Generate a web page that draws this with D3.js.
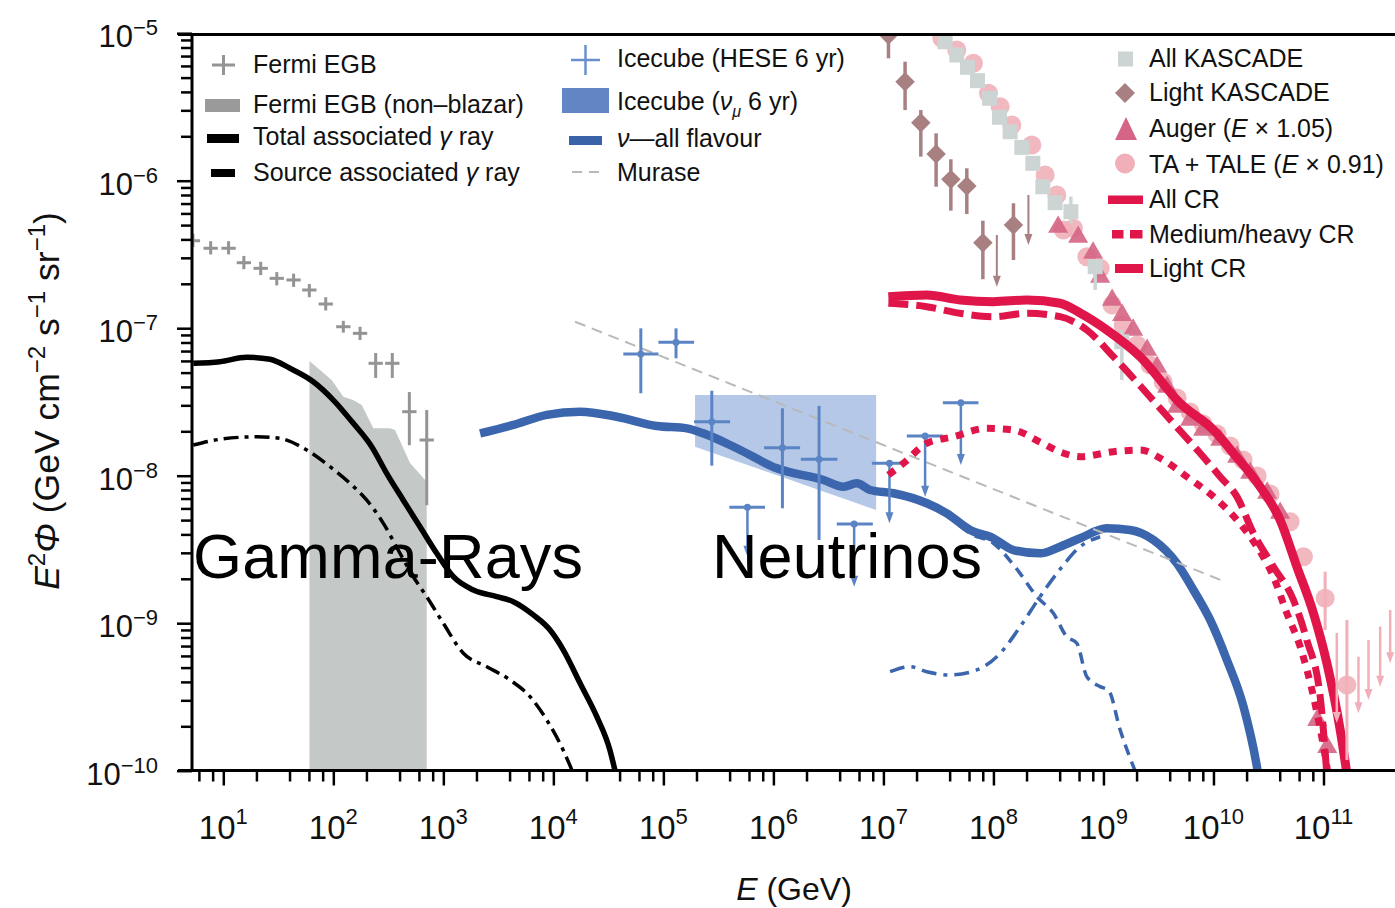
<!DOCTYPE html>
<html>
<head>
<meta charset="utf-8">
<script src="https://cdn.jsdelivr.net/npm/d3@7"></script>
<style>
body { margin: 0; background: #fff; }
svg { display: block; font-family: "Liberation Sans", Arial, Helvetica, sans-serif; }
</style>
</head>
<body>
<div id="chart"></div>
<script>
// all values are [log10 E/GeV, log10 E^2 Phi]

// Fermi EGB: logE, logF, logF low, logF high
var fermi_egb = [
   [0.724, -6.407, -6.45, -6.36], [0.885, -6.458, -6.50, -6.41], [1.048, -6.458, -6.50, -6.41],
   [1.187, -6.556, -6.60, -6.51], [1.340, -6.594, -6.64, -6.55], [1.486, -6.662, -6.71, -6.62],
   [1.639, -6.673, -6.72, -6.63], [1.782, -6.741, -6.79, -6.70], [1.931, -6.836, -6.88, -6.79],
   [2.091, -6.990, -7.03, -6.95], [2.243, -7.035, -7.08, -6.99], [2.385, -7.238, -7.337, -7.168],
   [2.536, -7.238, -7.337, -7.168], [2.691, -7.566, -7.793, -7.433], [2.849, -7.758, -8.20, -7.555]
];
// Fermi EGB (non-blazar) band, upper edge
var fermi_nonblazar = [
   [1.783, -7.222], [1.879, -7.283], [1.985, -7.351], [2.091, -7.464], [2.179, -7.487], [2.258, -7.521],
   [2.364, -7.679], [2.515, -7.679], [2.561, -7.690], [2.697, -7.914], [2.849, -8.041]
];
var total_gamma = [
   [0.727, -7.238], [0.970, -7.227], [1.213, -7.197], [1.425, -7.211], [1.606, -7.272], [1.818, -7.363],
   [2.000, -7.487], [2.182, -7.645], [2.349, -7.803], [2.485, -7.984], [2.636, -8.166], [2.788, -8.346],
   [2.940, -8.526], [3.091, -8.685], [3.273, -8.775], [3.485, -8.820], [3.636, -8.854], [3.818, -8.944],
   [3.970, -9.046], [4.091, -9.182], [4.243, -9.407], [4.395, -9.634], [4.515, -9.863], [4.570, -10.03]
];
var source_gamma = [
   [0.727, -7.792], [0.970, -7.753], [1.304, -7.736], [1.515, -7.747], [1.758, -7.826], [1.970, -7.939],
   [2.152, -8.052], [2.304, -8.166], [2.455, -8.323], [2.606, -8.526], [2.727, -8.685], [2.849, -8.820],
   [3.000, -9.001], [3.182, -9.204], [3.395, -9.295], [3.606, -9.385], [3.788, -9.498], [3.940, -9.656],
   [4.091, -9.863], [4.182, -10.02]
];
var nu_all = [
   [3.334, -7.713], [3.636, -7.656], [3.940, -7.588], [4.243, -7.566], [4.576, -7.600], [4.940, -7.663],
   [5.213, -7.679], [5.364, -7.713], [5.667, -7.814], [6.031, -7.950], [6.455, -8.029], [6.636, -8.075],
   [6.758, -8.052], [6.879, -8.097], [7.091, -8.119], [7.395, -8.187], [7.576, -8.255], [7.788, -8.368],
   [8.000, -8.424], [8.182, -8.504], [8.424, -8.526], [8.606, -8.481], [8.788, -8.424], [9.031, -8.357],
   [9.242, -8.368], [9.455, -8.436], [9.667, -8.594], [9.818, -8.775], [9.970, -8.978], [10.122, -9.249],
   [10.273, -9.566], [10.395, -9.973], [10.415, -10.063]
];
var nu_dashed = [
   [7.576, -8.255], [7.788, -8.391], [8.000, -8.458], [8.213, -8.634], [8.395, -8.820], [8.545, -8.933],
   [8.667, -9.092], [8.758, -9.136], [8.849, -9.363], [8.970, -9.430], [9.045, -9.453], [9.152, -9.724],
   [9.303, -10.03]
];
var nu_dashdot = [
   [7.061, -9.329], [7.243, -9.295], [7.395, -9.329], [7.606, -9.351], [7.849, -9.317], [8.061, -9.204],
   [8.243, -9.024], [8.424, -8.820], [8.606, -8.634], [8.788, -8.481], [8.970, -8.414]
];
var murase = [[4.197, -6.956], [10.106, -8.719]];
// IceCube nu_mu 6 yr band corners
var icecube_numu = [[5.288, -7.453], [6.934, -7.453], [6.934, -8.232], [5.288, -7.803]];
// HESE: logE, logF, logE low, logE high, logF low, logF high
var hese_points = [
   [4.795, -7.175, 4.636, 4.955, -7.441, -7.001],
   [5.115, -7.096, 4.955, 5.279, -7.204, -7.001],
   [5.440, -7.634, 5.279, 5.606, -7.932, -7.424],
   [6.082, -7.810, 5.915, 6.243, -8.221, -7.543],
   [6.415, -7.889, 6.249, 6.582, -8.436, -7.527]
];
// HESE upper limits: logE, logF, logE low, logE high, arrow tip
var hese_limits = [
   [5.764, -8.214, 5.600, 5.924, -8.549],
   [6.734, -8.327, 6.576, 6.904, -8.753],
   [7.055, -7.916, 6.895, 7.197, -8.323],
   [7.379, -7.731, 7.213, 7.540, -8.142],
   [7.704, -7.505, 7.540, 7.864, -7.927]
];
var light_kascade = [
   [7.046, -5.012, -5.170, -4.85], [7.197, -5.329, -5.521, -5.193], [7.340, -5.607, -5.837, -5.521],
   [7.479, -5.819, -6.041, -5.679], [7.613, -5.991, -6.203, -5.855], [7.758, -6.036, -6.226, -5.916],
   [7.904, -6.420, -6.668, -6.271], [8.182, -6.300, -6.538, -6.153]
];
var light_kascade_limits = [[8.031, -6.368, -6.719], [8.318, -6.097, -6.436]];
var all_kascade = [
   [7.470, -4.944, -4.96, -4.93], [7.561, -5.058, -5.07, -5.04], [7.667, -5.148, -5.16, -5.13],
   [7.764, -5.231, -5.25, -5.22], [7.855, -5.322, -5.34, -5.31], [7.964, -5.441, -5.46, -5.43],
   [8.055, -5.570, -5.59, -5.55], [8.152, -5.668, -5.69, -5.65], [8.258, -5.774, -5.79, -5.76],
   [8.358, -5.882, -5.90, -5.86], [8.449, -6.041, -6.06, -6.02], [8.561, -6.149, -6.17, -6.13],
   [8.704, -6.210, -6.289, -6.108], [8.925, -6.583, -6.741, -6.538], [9.167, -7.092, -7.351, -7.012]
];
var auger = [
   [8.588, -6.314], [8.770, -6.382], [8.906, -6.490], [8.970, -6.653], [9.079, -6.809], [9.170, -6.911],
   [9.270, -7.012], [9.397, -7.148], [9.488, -7.263], [9.579, -7.399], [9.670, -7.534], [9.788, -7.622],
   [9.906, -7.690], [10.061, -7.758], [10.215, -7.873], [10.334, -7.982], [10.488, -8.117], [10.606, -8.253],
   [10.943, -9.657], [11.034, -9.840]
];
var ta_tale = [
   [7.531, -5.035], [7.667, -5.114], [7.818, -5.204], [7.955, -5.407], [8.061, -5.498], [8.167, -5.622],
   [8.349, -5.758], [8.470, -5.961], [8.576, -6.097], [8.636, -6.334], [8.727, -6.323], [8.849, -6.515],
   [8.970, -6.594], [9.079, -6.843], [9.179, -6.978], [9.306, -7.114], [9.424, -7.249], [9.543, -7.365],
   [9.670, -7.473], [9.788, -7.568], [9.906, -7.649], [10.033, -7.717], [10.152, -7.799], [10.270, -7.893],
   [10.397, -8.002], [10.515, -8.124], [10.697, -8.312], [10.818, -8.549], [11.015, -8.831], [11.213, -9.419]
];
var ta_errors = [[11.015, -9.046, -8.651], [11.213, -9.927, -8.978]];
var ta_limits = [
   [11.121, -9.066, -9.676], [11.318, -9.227, -9.611], [11.409, -9.114, -9.521],
   [11.515, -9.023, -9.431], [11.606, -8.910, -9.272]
];
var all_cr = [
   [7.045, -6.786], [7.395, -6.775], [7.697, -6.809], [8.000, -6.820], [8.304, -6.809], [8.606, -6.831],
   [8.788, -6.897], [9.031, -7.012], [9.334, -7.193], [9.697, -7.509], [10.000, -7.690], [10.182, -7.848],
   [10.424, -8.075], [10.606, -8.300], [10.758, -8.617], [10.909, -8.933], [11.031, -9.272], [11.152, -9.724],
   [11.215, -10.03]
];
var light_cr = [
   [7.045, -6.831], [7.395, -6.854], [7.697, -6.899], [8.000, -6.922], [8.304, -6.899], [8.606, -6.922],
   [8.849, -7.012], [9.091, -7.193], [9.394, -7.441], [9.636, -7.645], [9.879, -7.848], [10.061, -8.007],
   [10.213, -8.142], [10.364, -8.391], [10.545, -8.617], [10.727, -8.843], [10.849, -9.115], [10.970, -9.498],
   [11.031, -10.03]
];
var heavy_cr = [
   [7.045, -7.995], [7.182, -7.916], [7.395, -7.780], [7.636, -7.736], [7.940, -7.679], [8.182, -7.690],
   [8.424, -7.772], [8.606, -7.839], [8.788, -7.871], [9.091, -7.837], [9.334, -7.826], [9.545, -7.894],
   [9.758, -8.007], [10.000, -8.142], [10.213, -8.300], [10.395, -8.481], [10.545, -8.685], [10.667, -8.933],
   [10.788, -9.159], [10.909, -9.498], [11.031, -9.973], [11.043, -10.03]
];

var x_major_exp = d3.range(1, 12);
var y_major_exp = d3.range(-10, -4);

var W = 1395, H = 908;
var svg = d3.select("#chart").append("svg").attr("width", W).attr("height", H);

var x = d3.scaleLog().domain([Math.pow(10, 0.7155), Math.pow(10, 11.65)]).range([192, 1395]);
var y = d3.scaleLog().domain([1e-10, 1e-5]).range([770.7, 33.2]);
function X(v) { return x(Math.pow(10, v)); }
function Y(v) { return y(Math.pow(10, v)); }

svg.append("defs").append("clipPath").attr("id", "plot_clip").append("rect")
   .attr("x", 192).attr("y", 34).attr("width", W - 192).attr("height", 736);
var plot = svg.append("g").attr("clip-path", "url(#plot_clip)");

function smooth_line(data) {
   return d3.line().x(function(d) { return X(d[0]); }).y(function(d) { return Y(d[1]); }).curve(d3.curveMonotoneX)(data);
}
function straight_line(data) {
   return d3.line().x(function(d) { return X(d[0]); }).y(function(d) { return Y(d[1]); })(data);
}
function draw_curve(data, color, width, dash) {
   return plot.append("path").attr("d", smooth_line(data)).attr("fill", "none").attr("stroke", color)
      .attr("stroke-width", width).attr("stroke-dasharray", dash || null).attr("stroke-linejoin", "round");
}
function arrow_head(g, px, py, w, h, color) {
   return g.append("path").attr("d", "M" + (px - w / 2) + "," + (py - h) + "L" + (px + w / 2) + "," + (py - h) + "L" + px + "," + py + "Z")
      .attr("fill", color);
}
function vline(g, px, y1, y2, color, w) {
   return g.append("line").attr("x1", px).attr("x2", px).attr("y1", y1).attr("y2", y2).attr("stroke", color).attr("stroke-width", w);
}
function hline(g, x1, x2, py, color, w) {
   return g.append("line").attr("x1", x1).attr("x2", x2).attr("y1", py).attr("y2", py).attr("stroke", color).attr("stroke-width", w);
}

// Fermi non-blazar band
plot.append("path")
   .attr("d", d3.area().x(function(d) { return X(d[0]); }).y0(Y(-11)).y1(function(d) { return Y(d[1]); })(fermi_nonblazar))
   .attr("fill", "#c4c9c8");

// Fermi EGB crosses
fermi_egb.forEach(function(d) {
   hline(plot, X(d[0] - 0.065), X(d[0] + 0.065), Y(d[1]), "#949494", 3);
   vline(plot, X(d[0]), Y(d[2]), Y(d[3]), "#949494", 3);
});

// gamma-ray models
draw_curve(source_gamma, "#000", 3.5, "15,6,4,6");
draw_curve(total_gamma, "#000", 5.5);

// IceCube numu band
plot.append("path").attr("d", straight_line(icecube_numu) + "Z").attr("fill", "#b5c8e8");

// neutrino models
draw_curve(nu_dashdot, "#3b66ad", 3.5, "15,7,4,7");
draw_curve(nu_dashed, "#3b66ad", 3.5, "11,7");
draw_curve(nu_all, "#3b66ad", 8.5);

// Murase
plot.append("path").attr("d", straight_line(murase)).attr("stroke", "#b9b9b9").attr("stroke-width", 2)
   .attr("stroke-dasharray", "11,7").attr("fill", "none");

// HESE points
var hese_col = "#5b84c4";
hese_points.forEach(function(d) {
   hline(plot, X(d[2]), X(d[3]), Y(d[1]), hese_col, 3);
   vline(plot, X(d[0]), Y(d[4]), Y(d[5]), hese_col, 3);
   plot.append("circle").attr("cx", X(d[0])).attr("cy", Y(d[1])).attr("r", 3.5).attr("fill", hese_col);
});
hese_limits.forEach(function(d) {
   hline(plot, X(d[2]), X(d[3]), Y(d[1]), hese_col, 3);
   vline(plot, X(d[0]), Y(d[1]), Y(d[4]) - 8, hese_col, 2.5);
   plot.append("circle").attr("cx", X(d[0])).attr("cy", Y(d[1])).attr("r", 3.5).attr("fill", hese_col);
   arrow_head(plot, X(d[0]), Y(d[4]), 8, 11, hese_col);
});

// Light KASCADE
var lk_col = "#a88082";
light_kascade.forEach(function(d) {
   vline(plot, X(d[0]), Y(d[2]), Y(d[3]), lk_col, 3.5);
   plot.append("path").attr("d", d3.symbol().type(d3.symbolSquare).size(190)())
      .attr("transform", "translate(" + X(d[0]) + "," + Y(d[1]) + ") rotate(45)").attr("fill", lk_col);
});
light_kascade_limits.forEach(function(d) {
   vline(plot, X(d[0]), Y(d[1]), Y(d[2]) - 8, lk_col, 2);
   arrow_head(plot, X(d[0]), Y(d[2]), 8, 11, lk_col);
});

// TA + TALE circles
var ta_col = "#f1b0b9";
plot.selectAll("circle.ta").data(ta_tale).enter().append("circle").attr("class", "ta")
   .attr("cx", function(d) { return X(d[0]); }).attr("cy", function(d) { return Y(d[1]); })
   .attr("r", 9.5).attr("fill", ta_col).attr("opacity", 0.9);

// Auger triangles
plot.selectAll("path.auger").data(auger).enter().append("path").attr("class", "auger")
   .attr("d", d3.symbol().type(d3.symbolTriangle).size(175)())
   .attr("transform", function(d) { return "translate(" + X(d[0]) + "," + Y(d[1]) + ")"; })
   .attr("fill", "#d46584").attr("opacity", 0.9);

// All KASCADE squares
all_kascade.forEach(function(d) {
   vline(plot, X(d[0]), Y(d[2]), Y(d[3]), "#cdd4d4", 3.5);
   plot.append("path").attr("d", d3.symbol().type(d3.symbolSquare).size(225)())
      .attr("transform", "translate(" + X(d[0]) + "," + Y(d[1]) + ")").attr("fill", "#cdd4d4");
});

// cosmic-ray models
draw_curve(heavy_cr, "#e0164b", 7, "8,8");
draw_curve(light_cr, "#e0164b", 7, "20,8");
draw_curve(all_cr, "#e0164b", 9);

// TA error bars and limits
ta_errors.forEach(function(d) { vline(plot, X(d[0]), Y(d[1]), Y(d[2]), ta_col, 3); });
ta_limits.forEach(function(d) {
   vline(plot, X(d[0]), Y(d[1]), Y(d[2]) - 8, ta_col, 2.5);
   arrow_head(plot, X(d[0]), Y(d[2]), 8, 11, ta_col);
});

// axes
var x_minor = [];
for (var n = 0; n <= 10; n++) { [2, 4, 6, 8].forEach(function(m) { var v = m * Math.pow(10, n); if (v >= x.domain()[0]) x_minor.push(v); }); }
var y_minor = [];
for (var k = -10; k < -5; k++) { d3.range(2, 10).forEach(function(m) { y_minor.push(m * Math.pow(10, k)); }); }

function style_axis(g) {
   g.select(".domain").remove();
   g.selectAll("line").attr("stroke", "#000").attr("stroke-width", 2.5);
}
svg.append("g").attr("transform", "translate(0,770.5)")
   .call(d3.axisBottom(x).tickValues(x_major_exp.map(function(e) { return Math.pow(10, e); })).tickSize(15).tickFormat(""))
   .call(style_axis);
svg.append("g").attr("transform", "translate(0,770.5)")
   .call(d3.axisBottom(x).tickValues(x_minor).tickSize(11).tickFormat("")).call(style_axis);
svg.append("g").attr("transform", "translate(192,0)")
   .call(d3.axisLeft(y).tickValues(y_major_exp.map(function(e) { return Math.pow(10, e); })).tickSize(15).tickFormat(""))
   .call(style_axis);
svg.append("g").attr("transform", "translate(192,0)")
   .call(d3.axisLeft(y).tickValues(y_minor).tickSize(11).tickFormat("")).call(style_axis);

// frame
hline(svg, 178, W, 34.5, "#000", 3);
hline(svg, 178, W, 770.5, "#000", 3);
vline(svg, 192, 33, 772, "#000", 3);

// tick labels
function power_label(px, py, exp, anchor, fs, sfs, raise) {
   var t = svg.append("text").attr("x", px).attr("y", py).attr("text-anchor", anchor).attr("font-size", fs).attr("fill", "#111");
   t.append("tspan").text("10");
   t.append("tspan").attr("font-size", sfs).attr("dy", -raise).text(exp);
}
x_major_exp.forEach(function(e) { power_label(x(Math.pow(10, e)), 839, String(e), "middle", 33, 22, 15); });
y_major_exp.forEach(function(e) { power_label(158, y(Math.pow(10, e)) + 14, "\u2212" + (-e), "end", 31, 22, 12); });

// rich text helper: parts are [text, italic, offset, size]
function rich_text(g, px, py, parts, fs, anchor) {
   var t = g.append("text").attr("x", px).attr("y", py).attr("font-size", fs).attr("fill", "#111")
      .attr("text-anchor", anchor || "start");
   var cur = 0;
   parts.forEach(function(p) {
      var off = p[2] || 0;
      var s = t.append("tspan").text(p[0]).attr("dy", off - cur);
      if (p[1]) s.attr("font-style", "italic");
      if (p[3]) s.attr("font-size", p[3]);
      cur = off;
   });
   return t;
}

// axis titles
rich_text(svg, 794, 900, [["E", true], [" (GeV)"]], 32, "middle");
rich_text(svg, 0, 0, [["E", true], ["2", false, -14, 24], ["Φ", true], [" (GeV cm"], ["\u22122", false, -14, 24], [" s"],
   ["\u22121", false, -14, 24], [" sr"], ["\u22121", false, -14, 24], [")"]], 35.5, "middle")
   .attr("transform", "translate(59,401) rotate(-90)");

// legend: gamma rays
var leg = svg.append("g");
hline(leg, 212, 235, 65, "#949494", 3);
vline(leg, 223.5, 55, 75, "#949494", 3);
leg.append("rect").attr("x", 205).attr("y", 99).attr("width", 35).attr("height", 13).attr("fill", "#9a9a9a");
leg.append("rect").attr("x", 207).attr("y", 134).attr("width", 32).attr("height", 9).attr("fill", "#000");
leg.append("rect").attr("x", 211).attr("y", 169).attr("width", 24).attr("height", 8).attr("fill", "#000");
rich_text(leg, 253, 73, [["Fermi EGB"]], 25);
rich_text(leg, 253, 113, [["Fermi EGB (non\u2013blazar)"]], 25);
rich_text(leg, 253, 145, [["Total associated "], ["γ", true], [" ray"]], 25);
rich_text(leg, 253, 181, [["Source associated "], ["γ", true], [" ray"]], 25);

// legend: neutrinos
hline(leg, 571, 600, 60, "#6a8fcb", 2.5);
vline(leg, 585.5, 45, 75, "#6a8fcb", 2.5);
leg.append("rect").attr("x", 562).attr("y", 88).attr("width", 47).attr("height", 25).attr("fill", "#6285c4");
leg.append("rect").attr("x", 569).attr("y", 136).attr("width", 33).attr("height", 9).attr("fill", "#3a62a8");
hline(leg, 572, 599, 172, "#b9b9b9", 2).attr("stroke-dasharray", "10,7");
rich_text(leg, 617, 67, [["Icecube (HESE 6 yr)"]], 25);
rich_text(leg, 617, 110, [["Icecube ("], ["ν", true], ["μ", true, 7, 16], [" 6 yr)"]], 25);
rich_text(leg, 617, 147, [["ν", true], ["\u2014all flavour"]], 25);
rich_text(leg, 617, 181, [["Murase"]], 25);

// legend: cosmic rays
leg.append("rect").attr("x", 1118).attr("y", 51.5).attr("width", 15).attr("height", 15).attr("fill", "#cdd4d4");
leg.append("path").attr("d", d3.symbol().type(d3.symbolSquare).size(200)())
   .attr("transform", "translate(1125,93) rotate(45)").attr("fill", lk_col);
leg.append("path").attr("d", "M1115,140L1137,140L1126,117Z").attr("fill", "#d46584");
leg.append("circle").attr("cx", 1125).attr("cy", 163.5).attr("r", 10).attr("fill", ta_col);
leg.append("rect").attr("x", 1108).attr("y", 195.5).attr("width", 35).attr("height", 8.5).attr("fill", "#e0164b");
leg.append("rect").attr("x", 1112).attr("y", 230).attr("width", 11.5).attr("height", 8.5).attr("fill", "#e0164b");
leg.append("rect").attr("x", 1130).attr("y", 230).attr("width", 12.5).attr("height", 8.5).attr("fill", "#e0164b");
leg.append("rect").attr("x", 1115).attr("y", 264).attr("width", 28).attr("height", 9).attr("fill", "#e0164b");
rich_text(leg, 1149, 67, [["All KASCADE"]], 25);
rich_text(leg, 1149, 101, [["Light KASCADE"]], 25);
rich_text(leg, 1149, 136.5, [["Auger ("], ["E", true], [" \u00d7 1.05)"]], 25);
rich_text(leg, 1149, 173, [["TA + TALE ("], ["E", true], [" \u00d7 0.91)"]], 25);
rich_text(leg, 1149, 208, [["All CR"]], 25);
rich_text(leg, 1149, 243, [["Medium/heavy CR"]], 25);
rich_text(leg, 1149, 277, [["Light CR"]], 25);

// region annotations
svg.append("text").attr("x", 193).attr("y", 578).attr("font-size", 63).attr("font-weight", 300)
   .attr("textLength", 390).attr("fill", "#000").text("Gamma-Rays");
svg.append("text").attr("x", 712).attr("y", 578).attr("font-size", 63).attr("font-weight", 300)
   .attr("textLength", 270).attr("fill", "#000").text("Neutrinos");
</script>
</body>
</html>
